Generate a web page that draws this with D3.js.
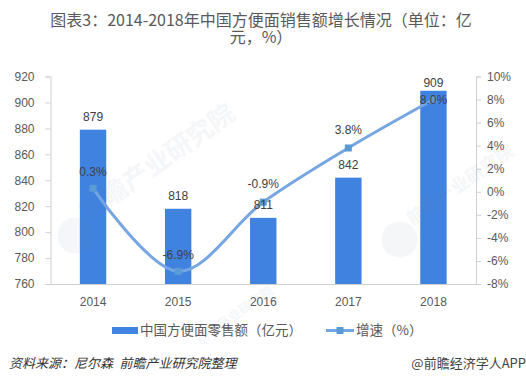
<!DOCTYPE html>
<html>
<head>
<meta charset="utf-8">
<script src="https://cdn.jsdelivr.net/npm/d3@7"></script>
<style>
  html, body { margin: 0; padding: 0; background: #fff; }
  text { font-family: "Noto Sans CJK SC", "Noto Sans", sans-serif; }
</style>
</head>
<body>
<div id="chart"></div>
<script>
const years = ["2014", "2015", "2016", "2017", "2018"];
const sales = [879, 818, 811, 842, 909];
const growth = [0.3, -6.9, -0.9, 3.8, 8.0];
const salesTicks = [760, 780, 800, 820, 840, 860, 880, 900, 920];
const growthTicks = [-8, -6, -4, -2, 0, 2, 4, 6, 8, 10];

const w = 526, h = 384;
const plotLeft = 50.5, plotRight = 476, plotTop = 76.5, plotBottom = 284;
const textColor = "#595959";

const svg = d3.select("#chart").append("svg")
  .attr("width", w).attr("height", h)
  .style("display", "block")
  .style("background", "#fff");

const x = d3.scaleBand().domain(years).range([plotLeft, plotRight]).paddingInner(0.69).paddingOuter(0.345);
const yLeft = d3.scaleLinear().domain([760, 920]).range([plotBottom, plotTop]);
const yRight = d3.scaleLinear().domain([-8, 10]).range([plotBottom, plotTop]);
const cx = (d) => x(d) + x.bandwidth() / 2;

// title
svg.append("text").attr("x", 261).attr("y", 26).attr("text-anchor", "middle")
  .style("font-size", "16px").style("fill", textColor)
  .text("图表3：2014-2018年中国方便面销售额增长情况（单位：亿");
svg.append("text").attr("x", 261).attr("y", 43).attr("text-anchor", "middle")
  .style("font-size", "16px").style("fill", textColor)
  .text("元，%）");

// axes
const axisLeft = svg.append("g").attr("transform", `translate(${plotLeft},0)`)
  .call(d3.axisLeft(yLeft).tickValues(salesTicks).tickSize(5).tickPadding(11));
const axisRight = svg.append("g").attr("transform", `translate(${plotRight},0)`)
  .call(d3.axisRight(yRight).tickValues(growthTicks).tickSize(5).tickPadding(6).tickFormat((d) => d + "%"));
const axisBottom = svg.append("g").attr("transform", `translate(0,${plotBottom})`)
  .call(d3.axisBottom(x).tickSize(0).tickPadding(13));

[axisLeft, axisRight, axisBottom].forEach((a) => {
  a.selectAll("path, line").attr("stroke", "#d0d0d0");
  a.selectAll("text").style("font-size", "12px").style("fill", textColor)
    .style("font-family", '"Liberation Sans", sans-serif');
});

// bars
svg.selectAll(".bar").data(years).enter()
  .append("rect").attr("class", "bar")
  .attr("x", (d) => x(d)).attr("width", x.bandwidth())
  .attr("y", (d, i) => yLeft(sales[i]))
  .attr("height", (d, i) => plotBottom - yLeft(sales[i]))
  .attr("fill", "#3f82e0");

// faint watermark, logo blob plus rotated name
function watermark(wx, wy, size, logoR) {
  const g = svg.append("g").attr("transform", `translate(${wx},${wy}) rotate(-35)`).style("opacity", 0.07);
  g.append("text").attr("text-anchor", "start")
    .style("font-size", size + "px").style("font-weight", "bold").style("fill", "#7d8ea6")
    .text("前瞻产业研究院");
  if (logoR) g.append("circle").attr("cx", -logoR).attr("cy", 4).attr("r", logoR).attr("fill", "#7d8ea6");
}
watermark(88, 222, 26, 18);
watermark(412, 226, 18, 18);
watermark(200, 345, 13, 0);

// growth line
const line = d3.line()
  .x((d, i) => cx(years[i]))
  .y((d) => yRight(d))
  .curve(d3.curveCatmullRom.alpha(0.5));

svg.append("path").datum(growth)
  .attr("d", line).attr("fill", "none")
  .attr("stroke", "#76a5e3").attr("stroke-width", 3);

svg.selectAll(".pt").data(growth).enter()
  .append("rect").attr("class", "pt")
  .attr("x", (d, i) => cx(years[i]) - 3.5).attr("y", (d) => yRight(d) - 3.5)
  .attr("width", 7).attr("height", 7)
  .attr("fill", "#5b9bd5");

// labels
const salesOffset = [-9, -9, -9, -9, -4];
svg.selectAll(".sales-label").data(sales).enter()
  .append("text").attr("class", "sales-label")
  .attr("x", (d, i) => cx(years[i])).attr("y", (d, i) => yLeft(d) + salesOffset[i])
  .attr("text-anchor", "middle")
  .style("font-family", '"Liberation Sans", sans-serif')
  .style("font-size", "12px").style("fill", "#404040")
  .text((d) => d);

const growthOffset = [-12, -12, -14, -14, 4];
svg.selectAll(".growth-label").data(growth).enter()
  .append("text").attr("class", "growth-label")
  .attr("x", (d, i) => cx(years[i])).attr("y", (d, i) => yRight(d) + growthOffset[i])
  .attr("text-anchor", "middle")
  .style("font-family", '"Liberation Sans", sans-serif')
  .style("font-size", "12px").style("fill", "#404040")
  .text((d) => d.toFixed(1) + "%");

// legend
svg.append("rect").attr("x", 112).attr("y", 327).attr("width", 26).attr("height", 7).attr("fill", "#3f82e0");
svg.append("text").attr("x", 140).attr("y", 335)
  .style("font-size", "13.5px").style("fill", textColor)
  .text("中国方便面零售额（亿元）");
svg.append("line").attr("x1", 326).attr("x2", 354).attr("y1", 330.5).attr("y2", 330.5)
  .attr("stroke", "#76a5e3").attr("stroke-width", 3);
svg.append("rect").attr("x", 336.5).attr("y", 327).attr("width", 7).attr("height", 7).attr("fill", "#5b9bd5");
svg.append("text").attr("x", 356).attr("y", 335)
  .style("font-size", "13.5px").style("fill", textColor)
  .text("增速（%）");

// footer
svg.append("text").attr("x", 9).attr("y", 368)
  .style("font-size", "13px").style("font-style", "italic").style("fill", "#333")
  .text("资料来源：尼尔森\u2002前瞻产业研究院整理");
svg.append("text").attr("x", 526).attr("y", 368).attr("text-anchor", "end")
  .style("font-size", "13px").style("fill", "#444")
  .text("@前瞻经济学人APP");
</script>
</body>
</html>
